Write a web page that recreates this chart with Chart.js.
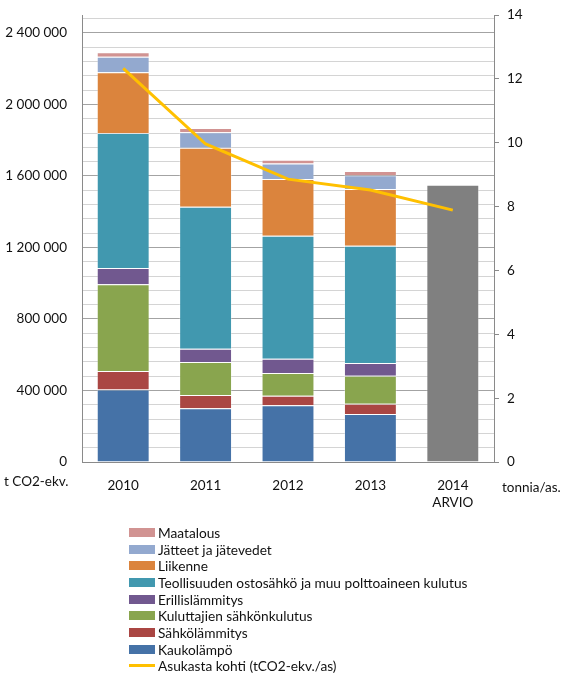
<!DOCTYPE html>
<html>
<head>
<meta charset="utf-8">
<script src="https://cdn.jsdelivr.net/npm/chart.js@4.4.0/dist/chart.umd.min.js"></script>
<style>
  body { margin: 0; background: #fff; }
  #wrap { position: relative; width: 562px; height: 673px; }
  #legend { position: absolute; left: 129px; top: 524px; font: 13.7px Lato, sans-serif; color: #111; }
  #legend .item { height: 16.7px; display: flex; align-items: center; white-space: nowrap; }
  #legend .box { width: 26px; height: 9px; margin-right: 3px; }
  #legend .line { width: 26px; height: 3px; margin-right: 3px; }
</style>
</head>
<body>
<div id="wrap">
  <canvas id="chart" width="562" height="673"></canvas>
  <div id="legend"></div>
</div>
<script>
// years on the x axis, 2014 is an estimate
var years = ["2010", "2011", "2012", "2013", ["2014", "ARVIO"]];

// emissions per sector, t CO2-ekv.
var kaukolampo = [405000, 300000, 317000, 268000, null];
var sahkolammitys = [104000, 75000, 54000, 58000, null];
var kuluttajat = [485000, 184000, 127000, 157000, null];
var erillislammitys = [91000, 75000, 80000, 71000, null];
var teollisuus = [755000, 794000, 688000, 656000, null];
var liikenne = [340000, 330000, 317000, 317000, null];
var jatteet = [87000, 86000, 86000, 77000, null];
var maatalous = [25000, 24000, 22000, 24000, null];
var arvio = [null, null, null, null, 1550000];

// per resident, tonnia/as.
var asukasta = [12.33, 9.96, 8.86, 8.52, 7.89];

// axis ranges
var leftMax = 2500000, leftMajor = 400000, leftMinor = 80000;
var rightMax = 14, rightStep = 2;

var FONT = "Lato";
var TEXT = "#111";
var AXIS = "#8a8a8a";

function spaced(v) {
    return String(v).replace(/\B(?=(\d{3})+(?!\d))/g, " ");
}

function bar(label, data, color) {
    return {
        type: "bar", label: label, data: data, backgroundColor: color,
        borderColor: "rgba(255,255,255,0.3)", borderWidth: 1,
        yAxisID: "y", stack: "s", order: 1
    };
}

var datasets = [
    bar("Kaukolämpö", kaukolampo, "#4572a7"),
    bar("Sähkölämmitys", sahkolammitys, "#aa4643"),
    bar("Kuluttajien sähkönkulutus", kuluttajat, "#89a54e"),
    bar("Erillislämmitys", erillislammitys, "#71588f"),
    bar("Teollisuuden ostosähkö ja muu polttoaineen kulutus", teollisuus, "#4198af"),
    bar("Liikenne", liikenne, "#db843d"),
    bar("Jätteet ja jätevedet", jatteet, "#93a9cf"),
    bar("Maatalous", maatalous, "#d19392"),
    bar("2014 arvio", arvio, "#808080"),
    {
        type: "line", label: "Asukasta kohti (tCO2-ekv./as)", data: asukasta,
        borderColor: "#ffc000", backgroundColor: "#ffc000", borderWidth: 3,
        pointRadius: 0, yAxisID: "y1", order: 0, tension: 0
    }
];

/** unit captions under the value axes */
var unitLabels = {
    id: "unitLabels",
    afterDraw: function(chart) {
        var ctx = chart.ctx, area = chart.chartArea;
        ctx.save();
        ctx.font = "13.5px " + FONT;
        ctx.fillStyle = TEXT;
        ctx.textBaseline = "middle";
        ctx.fillText("t CO2-ekv.", 4, area.bottom + 20);
        ctx.fillText("tonnia/as.", 502, area.bottom + 26);
        ctx.restore();
    }
};

// fixed axis box sizes, no extra label padding
function fitY(width) {
    return function(s) {
        s.width = width;
        s.paddingTop = 0;
        s.paddingBottom = 0;
    };
}

var tickFont = { family: FONT, size: 13.5, lineHeight: 1.2 };

var chart = new Chart(document.getElementById("chart"), {
    data: { labels: years, datasets: datasets },
    plugins: [unitLabels],
    options: {
        responsive: false,
        animation: false,
        layout: { padding: { top: 15, bottom: 156, left: 0, right: 0 } },
        datasets: { bar: { barPercentage: 0.642, categoryPercentage: 1 } },
        plugins: { legend: { display: false }, tooltip: { enabled: false } },
        scales: {
            x: {
                stacked: true,
                grid: { display: false },
                border: { color: AXIS },
                ticks: { color: TEXT, font: tickFont, padding: 8, maxRotation: 0 },
                afterFit: function(s) { s.height = 55; s.paddingLeft = 0; s.paddingRight = 0; }
            },
            y: {
                stacked: true,
                position: "left",
                min: 0,
                max: leftMax,
                border: { color: AXIS },
                grid: {
                    drawTicks: false,
                    color: function(c) {
                        if (!c.tick) return "#d4d4d4";
                        return c.tick.value % leftMajor === 0 ? "#a3a3a3" : "#d4d4d4";
                    }
                },
                ticks: {
                    autoSkip: false,
                    padding: 15,
                    color: TEXT,
                    font: tickFont,
                    callback: function(v) { return v % leftMajor === 0 ? spaced(v) : ""; }
                },
                afterBuildTicks: function(s) {
                    var t = [];
                    for (var v = 0; v < leftMax; v += leftMinor) t.push({ value: v });
                    s.ticks = t;
                },
                afterFit: fitY(82)
            },
            y1: {
                position: "right",
                min: 0,
                max: rightMax,
                border: { color: AXIS },
                grid: { drawOnChartArea: false, drawTicks: true, tickLength: 5, color: AXIS },
                ticks: { stepSize: rightStep, padding: 8, color: TEXT, font: tickFont },
                afterFit: fitY(68)
            }
        }
    }
});

// legend: top of the stack first, line last, estimate bar left out
var legend = document.getElementById("legend");
var items = datasets.slice(0, 8).reverse().concat([datasets[9]]);
items.forEach(function(d) {
    var row = document.createElement("div");
    row.className = "item";
    var mark = document.createElement("span");
    mark.className = d.type === "line" ? "line" : "box";
    mark.style.background = d.type === "line" ? d.borderColor : d.backgroundColor;
    var text = document.createElement("span");
    text.textContent = d.label;
    row.appendChild(mark);
    row.appendChild(text);
    legend.appendChild(row);
});
</script>
</body>
</html>
